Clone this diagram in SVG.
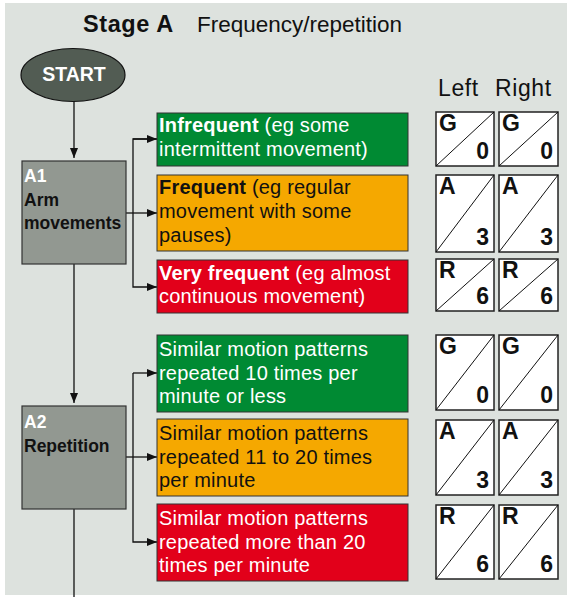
<svg xmlns="http://www.w3.org/2000/svg" width="567" height="597" viewBox="0 0 567 597">
<defs>
<marker id="ah" viewBox="0 0 10 8" refX="10" refY="4" markerWidth="10" markerHeight="8" markerUnits="userSpaceOnUse" orient="auto">
<path d="M0,0 L10,4 L0,8 Z" fill="#111"/>
</marker>
<style>
.t{font-family:"Liberation Sans",Arial,sans-serif;}
.title{font-size:22.5px;fill:#111;}
.hdr{font-size:23px;fill:#111;letter-spacing:0.6px;}
.opt{font-size:20px;letter-spacing:0.2px;}
.w{fill:#fff;}
.k{fill:#111;}
.node{fill:#929891;stroke:#333;stroke-width:1.2;}
.g{fill:#008a33;stroke:#333;stroke-width:1;}
.o{fill:#f5a800;stroke:#333;stroke-width:1;}
.r{fill:#e2001a;stroke:#333;stroke-width:1;}
.lbl{font-size:17.5px;font-weight:bold;}
.sc{fill:#fff;stroke:#222;stroke-width:1.5;}
.diag{stroke:#111;stroke-width:1;}
.scl{font-size:23px;font-weight:bold;fill:#111;}
.con{fill:none;stroke:#111;stroke-width:1.3;}
</style>
</defs>
<rect x="5" y="3" width="562" height="592" fill="#dde2de"/>
<text class="t title" x="83" y="32"><tspan font-weight="bold" font-size="23.5" letter-spacing="0.6">Stage A</tspan><tspan x="197">Frequency/repetition</tspan></text>
<text class="t hdr" x="438" y="96">Left</text>
<text class="t hdr" x="495" y="96">Right</text>

<g id="connectors">
<path class="con" d="M74,101 V158" marker-end="url(#ah)"/>
<path class="con" d="M74,264 V403" marker-end="url(#ah)"/>
<path class="con" d="M74,509 V597"/>
<path class="con" d="M126,213 H157" marker-end="url(#ah)"/>
<path class="con" d="M157,139 H133 V287 H157" marker-end="url(#ah)"/>
<path class="con" d="M133,139 H157" marker-end="url(#ah)"/>
<path class="con" d="M126,457 H157" marker-end="url(#ah)"/>
<path class="con" d="M133,373 V542 H157" marker-end="url(#ah)"/>
<path class="con" d="M133,373 H157" marker-end="url(#ah)"/>
</g>

<g id="start">
<ellipse cx="73" cy="75" rx="52" ry="26.5" fill="#525c53" stroke="#111" stroke-width="1.2"/>
<text class="t w" x="74" y="81" font-size="19.5" font-weight="bold" text-anchor="middle">START</text>
</g>

<g id="A1">
<rect class="node" x="22" y="161" width="104" height="103"/>
<text class="t lbl w" x="24" y="182">A1</text>
<text class="t lbl k" x="24" y="206">Arm</text>
<text class="t lbl k" x="24" y="229">movements</text>
</g>

<g id="A2">
<rect class="node" x="22" y="406" width="104" height="103"/>
<text class="t lbl w" x="24" y="428">A2</text>
<text class="t lbl k" x="24" y="452">Repetition</text>
</g>

<g id="A1-infrequent">
<rect class="g" x="157" y="113" width="251" height="53"/>
<text class="t opt w" x="159" y="132"><tspan font-weight="bold">Infrequent</tspan> (eg some</text>
<text class="t opt w" x="159" y="156">intermittent movement)</text>
</g>
<g id="A1-frequent">
<rect class="o" x="157" y="175" width="251" height="76"/>
<text class="t opt k" x="159" y="194"><tspan font-weight="bold">Frequent</tspan> (eg regular</text>
<text class="t opt k" x="159" y="218">movement with some</text>
<text class="t opt k" x="159" y="242">pauses)</text>
</g>
<g id="A1-veryfrequent">
<rect class="r" x="157" y="260" width="251" height="53"/>
<text class="t opt w" x="159" y="280"><tspan font-weight="bold">Very frequent</tspan> (eg almost</text>
<text class="t opt w" x="159" y="303">continuous movement)</text>
</g>

<g id="A2-low">
<rect class="g" x="157" y="335" width="251" height="77"/>
<text class="t opt w" x="159" y="356">Similar motion patterns</text>
<text class="t opt w" x="159" y="380">repeated 10 times per</text>
<text class="t opt w" x="159" y="403">minute or less</text>
</g>
<g id="A2-mid">
<rect class="o" x="157" y="419" width="251" height="77"/>
<text class="t opt k" x="159" y="440">Similar motion patterns</text>
<text class="t opt k" x="159" y="464">repeated 11 to 20 times</text>
<text class="t opt k" x="159" y="487">per minute</text>
</g>
<g id="A2-high">
<rect class="r" x="157" y="504" width="251" height="77"/>
<text class="t opt w" x="159" y="525">Similar motion patterns</text>
<text class="t opt w" x="159" y="549">repeated more than 20</text>
<text class="t opt w" x="159" y="572">times per minute</text>
</g>

<g id="scores-A1-G">
<rect class="sc" x="436" y="112" width="58" height="54"/><line class="diag" x1="436" y1="166" x2="494" y2="112"/>
<text class="t scl" x="439" y="131">G</text><text class="t scl" x="489" y="159" text-anchor="end">0</text>
<rect class="sc" x="499" y="112" width="59" height="54"/><line class="diag" x1="499" y1="166" x2="558" y2="112"/>
<text class="t scl" x="502" y="131">G</text><text class="t scl" x="553" y="159" text-anchor="end">0</text>
</g>
<g id="scores-A1-A">
<rect class="sc" x="436" y="175" width="58" height="77"/><line class="diag" x1="436" y1="252" x2="494" y2="175"/>
<text class="t scl" x="439" y="194">A</text><text class="t scl" x="489" y="245" text-anchor="end">3</text>
<rect class="sc" x="499" y="175" width="59" height="77"/><line class="diag" x1="499" y1="252" x2="558" y2="175"/>
<text class="t scl" x="502" y="194">A</text><text class="t scl" x="553" y="245" text-anchor="end">3</text>
</g>
<g id="scores-A1-R">
<rect class="sc" x="436" y="259" width="58" height="52"/><line class="diag" x1="436" y1="311" x2="494" y2="259"/>
<text class="t scl" x="439" y="278">R</text><text class="t scl" x="489" y="304" text-anchor="end">6</text>
<rect class="sc" x="499" y="259" width="59" height="52"/><line class="diag" x1="499" y1="311" x2="558" y2="259"/>
<text class="t scl" x="502" y="278">R</text><text class="t scl" x="553" y="304" text-anchor="end">6</text>
</g>
<g id="scores-A2-G">
<rect class="sc" x="436" y="335" width="58" height="75"/><line class="diag" x1="436" y1="410" x2="494" y2="335"/>
<text class="t scl" x="439" y="354">G</text><text class="t scl" x="489" y="403" text-anchor="end">0</text>
<rect class="sc" x="499" y="335" width="59" height="75"/><line class="diag" x1="499" y1="410" x2="558" y2="335"/>
<text class="t scl" x="502" y="354">G</text><text class="t scl" x="553" y="403" text-anchor="end">0</text>
</g>
<g id="scores-A2-A">
<rect class="sc" x="436" y="420" width="58" height="75"/><line class="diag" x1="436" y1="495" x2="494" y2="420"/>
<text class="t scl" x="439" y="439">A</text><text class="t scl" x="489" y="488" text-anchor="end">3</text>
<rect class="sc" x="499" y="420" width="59" height="75"/><line class="diag" x1="499" y1="495" x2="558" y2="420"/>
<text class="t scl" x="502" y="439">A</text><text class="t scl" x="553" y="488" text-anchor="end">3</text>
</g>
<g id="scores-A2-R">
<rect class="sc" x="436" y="505" width="58" height="74"/><line class="diag" x1="436" y1="579" x2="494" y2="505"/>
<text class="t scl" x="439" y="524">R</text><text class="t scl" x="489" y="572" text-anchor="end">6</text>
<rect class="sc" x="499" y="505" width="59" height="74"/><line class="diag" x1="499" y1="579" x2="558" y2="505"/>
<text class="t scl" x="502" y="524">R</text><text class="t scl" x="553" y="572" text-anchor="end">6</text>
</g>
</svg>
